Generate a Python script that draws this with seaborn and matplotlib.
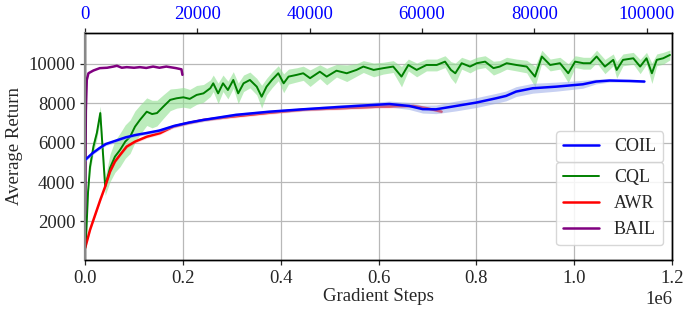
import numpy as np
import pandas as pd
import seaborn as sns
import matplotlib
matplotlib.use("Agg")
import matplotlib.pyplot as plt

# CQL / AWR / BAIL use the bottom axis (gradient steps), COIL uses the top axis
cql_steps = [0, 0.002e6, 0.006e6, 0.010e6, 0.017e6, 0.024e6, 0.031e6, 0.041e6,
             0.051e6, 0.061e6, 0.0715e6, 0.082e6, 0.092e6, 0.102e6, 0.112e6, 0.126e6,
             0.137e6, 0.147e6, 0.160e6, 0.174e6, 0.187e6, 0.201e6, 0.214e6, 0.228e6,
             0.242e6, 0.256e6, 0.262e6, 0.272e6, 0.282e6, 0.292e6, 0.303e6, 0.313e6,
             0.324e6, 0.337e6, 0.351e6, 0.361e6, 0.371e6, 0.382e6, 0.395e6, 0.406e6,
             0.416e6, 0.433e6, 0.446e6, 0.460e6, 0.480e6, 0.494e6, 0.514e6, 0.535e6,
             0.555e6, 0.569e6, 0.590e6, 0.610e6, 0.630e6, 0.647e6, 0.661e6, 0.678e6,
             0.698e6, 0.719e6, 0.736e6, 0.748e6, 0.757e6, 0.770e6, 0.787e6, 0.801e6,
             0.818e6, 0.835e6, 0.848e6, 0.862e6, 0.882e6, 0.903e6, 0.920e6, 0.934e6,
             0.951e6, 0.971e6, 0.988e6, 1.002e6, 1.019e6, 1.033e6, 1.046e6, 1.063e6,
             1.080e6, 1.087e6, 1.100e6, 1.121e6, 1.135e6, 1.148e6, 1.159e6, 1.169e6,
             1.182e6, 1.196e6]
cql_mean = [650, 1200, 3500, 4770, 5800, 6490, 7500, 3770,
            4720, 5290, 5630, 6050, 6300, 6810, 7150, 7570,
            7450, 7500, 7830, 8170, 8250, 8300, 8220, 8420,
            8500, 8760, 9010, 8500, 9010, 8670, 9180, 8500,
            9010, 9180, 8840, 8330, 8840, 9180, 9520, 9010,
            9350, 9440, 9520, 9270, 9600, 9350, 9650, 9520,
            9690, 9860, 9690, 9780, 9860, 9350, 9940, 9690,
            9940, 9940, 10110, 9690, 9520, 10030, 9860, 10030,
            10110, 9780, 9860, 10030, 9940, 9860, 9350, 10370,
            9940, 10030, 9520, 10110, 10030, 10030, 10370, 9860,
            10200, 9690, 10200, 10280, 9860, 10280, 9520, 10200,
            10280, 10450]
cql_std = [100, 150, 250, 300, 300, 300, 350, 450,
           700, 800, 850, 850, 850, 800, 750, 700,
           700, 650, 600, 550, 500, 500, 480, 480,
           450, 420, 420, 520, 420, 450, 420, 520,
           420, 400, 420, 580, 420, 400, 380, 480,
           380, 360, 360, 420, 350, 420, 320, 420,
           320, 300, 350, 300, 300, 520, 300, 350,
           300, 300, 300, 420, 520, 300, 320, 300,
           300, 350, 300, 300, 300, 320, 520, 320,
           300, 300, 480, 300, 300, 300, 320, 360,
           300, 420, 300, 300, 360, 300, 520, 300,
           300, 250]

awr_steps = [0, 0.010e6, 0.0205e6, 0.031e6, 0.041e6, 0.051e6, 0.061e6, 0.0715e6,
             0.085e6, 0.102e6, 0.126e6, 0.153e6, 0.180e6, 0.208e6, 0.242e6, 0.300e6,
             0.378e6, 0.450e6, 0.515e6, 0.603e6, 0.671e6, 0.698e6, 0.729e6]
awr_mean = [650, 1570, 2330, 3090, 3770, 4530, 5040, 5380,
            5800, 6050, 6300, 6480, 6810, 6980, 7150, 7320,
            7520, 7680, 7740, 7830, 7860, 7750, 7570]

bail_steps = [0, 0.0015e6, 0.0034e6, 0.0068e6, 0.017e6, 0.030e6, 0.045e6, 0.058e6,
              0.065e6, 0.075e6, 0.085e6, 0.100e6, 0.112e6, 0.125e6, 0.139e6, 0.152e6,
              0.166e6, 0.176e6, 0.186e6, 0.197e6, 0.199e6]
bail_mean = [2400, 7600, 9180, 9520, 9660, 9780, 9800, 9860,
             9900, 9800, 9830, 9800, 9830, 9790, 9860, 9800,
             9860, 9820, 9780, 9720, 9440]

coil_steps = [0, 1300, 2500, 3690, 5470, 7250, 9030, 10820,
              13190, 15860, 18530, 21000, 26850, 32790, 38720, 44670,
              49410, 54170, 57730, 60100, 62480, 66050, 69620, 73180,
              74960, 76750, 79720, 83870, 88620, 91000, 93370, 96930,
              99600]
coil_mean = [5120, 5460, 5710, 5930, 6100, 6270, 6390, 6480,
             6610, 6850, 7020, 7150, 7410, 7570, 7690, 7800,
             7880, 7960, 7860, 7700, 7690, 7860, 8030, 8250,
             8370, 8590, 8760, 8840, 8960, 9100, 9150, 9130,
             9100]
coil_std = [80, 80, 80, 80, 80, 80, 80, 80,
            80, 80, 80, 80, 80, 80, 80, 100,
            120, 150, 180, 200, 220, 250, 250, 250,
            250, 250, 250, 230, 200, 120, 80, 60,
            60]

sns.set_theme(style="ticks")
plt.rcParams['font.family'] = ['Liberation Serif', 'DejaVu Serif']

fig = plt.figure(figsize=(6.92, 3.16), dpi=100)
ax = fig.add_axes([0.123, 0.177, 0.848, 0.719])
ax2 = ax.twiny()

cql = pd.DataFrame({"step": cql_steps, "ret": cql_mean, "std": cql_std})
awr = pd.DataFrame({"step": awr_steps, "ret": awr_mean})
bail = pd.DataFrame({"step": bail_steps, "ret": bail_mean})
coil = pd.DataFrame({"step": coil_steps, "ret": coil_mean, "std": coil_std})

ax.fill_between(cql["step"], cql["ret"] - cql["std"], cql["ret"] + cql["std"],
                color="#90e090", alpha=0.6, linewidth=0)
ax.fill_between(awr["step"], awr["ret"] - 80, awr["ret"] + 80,
                color="red", alpha=0.15, linewidth=0)
sns.lineplot(data=cql, x="step", y="ret", ax=ax, color="green", lw=1.4, label="CQL")
sns.lineplot(data=awr, x="step", y="ret", ax=ax, color="red", lw=1.8, label="AWR")
sns.lineplot(data=bail, x="step", y="ret", ax=ax, color="purple", lw=1.8, label="BAIL")

ax2.fill_between(coil["step"], coil["ret"] - coil["std"], coil["ret"] + coil["std"],
                 color="#9aaae8", alpha=0.55, linewidth=0)
sns.lineplot(data=coil, x="step", y="ret", ax=ax2, color="blue", lw=1.8, label="COIL")

ax.set_xlim(0, 1.2e6)
ax.set_ylim(40, 11570)
ax2.set_xlim(0, 104500)
ax.set_yticks([2000, 4000, 6000, 8000, 10000])
ax.grid(True, color="#b8b8b8", linewidth=0.9)
ax2.grid(False)

ax.set_xlabel("Gradient Steps", fontsize=13.5, labelpad=1)
ax.set_ylabel("Average Return", fontsize=13.5)
ax2.set_xlabel("")
ax.tick_params(labelsize=13.5, length=3.5, width=0.9)
ax2.tick_params(axis="x", labelsize=13.5, labelcolor="blue", length=3.5, width=0.9)
ax.xaxis.get_offset_text().set_fontsize(13.5)

for a in (ax, ax2):
    for s in a.spines.values():
        s.set_color("black")
        s.set_linewidth(1.0)
ax2.spines["left"].set_color("#888888")
ax2.spines["left"].set_linewidth(1.6)

ax.legend(loc="lower right", bbox_to_anchor=(0.985, 0.065), borderaxespad=0,
          fontsize=13, frameon=True, edgecolor="#d0d0d0", framealpha=0.85)
ax2.legend(loc="lower right", bbox_to_anchor=(0.985, 0.43), borderaxespad=0,
           fontsize=13, frameon=True, edgecolor="#d0d0d0", framealpha=0.85)

fig.savefig("out.png", dpi=100)
